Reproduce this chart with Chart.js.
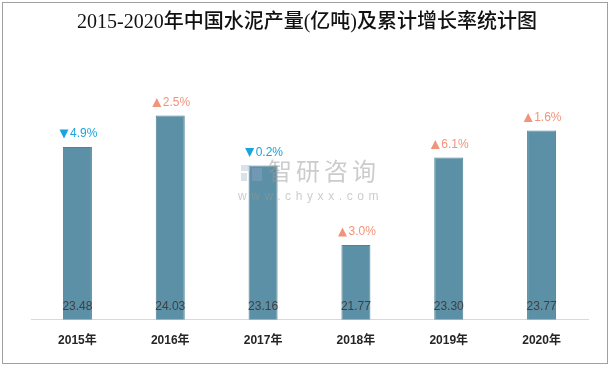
<!DOCTYPE html>
<html><head><meta charset="utf-8">
<script src="https://cdn.jsdelivr.net/npm/chart.js@4/dist/chart.umd.min.js"></script>
<style>html,body{margin:0;padding:0;background:#fff}#wrap{width:613px;height:368px}</style>
</head><body><div id="wrap"><canvas id="c" width="613" height="368"></canvas></div>
<script>
const categories = ['2015年','2016年','2017年','2018年','2019年','2020年'];
const output = [23.48, 24.03, 23.16, 21.77, 23.30, 23.77];
const growth = [-4.9, 2.5, -0.2, 3.0, 6.1, 1.6];
const titleText = '2015-2020年中国水泥产量(亿吨)及累计增长率统计图';
const yMin = 20.47, yMax = 25;

const decor = {
  id: 'decor',
  beforeDraw(chart) {
    const ctx = chart.ctx;
    ctx.save();
    ctx.fillStyle = '#fff';
    ctx.fillRect(0, 0, chart.width, chart.height);
    ctx.strokeStyle = '#a0a0a0';
    ctx.lineWidth = 1;
    ctx.strokeRect(2.5, 2.5, 605, 361);
    ctx.fillStyle = '#111';
    ctx.font = '500 20px "Liberation Serif", "Noto Sans CJK SC"';
    ctx.textAlign = 'center';
    ctx.textBaseline = 'middle';
    ctx.fillText(titleText, 307, 23);
    ctx.restore();
  },
  afterDatasetsDraw(chart) {
    const ctx = chart.ctx;
    const meta = chart.getDatasetMeta(0);
    const base = chart.scales.y.getPixelForValue(yMin);
    ctx.save();
    ctx.textBaseline = 'middle';
    meta.data.forEach((bar, i) => {
      ctx.textAlign = 'center';
      ctx.font = '12px "Liberation Sans", sans-serif';
      ctx.fillStyle = '#404040';
      ctx.fillText(output[i].toFixed(2), bar.x, base - 13);
      const g = growth[i];
      const txt = Math.abs(g).toFixed(1) + '%';
      ctx.font = '12px "Liberation Sans", sans-serif';
      const tw = ctx.measureText(txt).width;
      const triW = 9, gap = 1.5;
      const total = triW + gap + tw;
      const left = bar.x + 1 - total / 2;
      const cy = bar.y - 13;
      ctx.fillStyle = g < 0 ? '#1aa3dc' : '#f2937b';
      ctx.beginPath();
      if (g < 0) {
        ctx.moveTo(left, cy - 4.5); ctx.lineTo(left + triW, cy - 4.5); ctx.lineTo(left + triW / 2, cy + 4.5);
      } else {
        ctx.moveTo(left, cy + 4.5); ctx.lineTo(left + triW, cy + 4.5); ctx.lineTo(left + triW / 2, cy - 4.5);
      }
      ctx.closePath();
      ctx.fill();
      ctx.textAlign = 'left';
      ctx.fillText(txt, left + triW + gap, cy);
    });
    // watermark
    ctx.globalAlpha = 0.5;
    ctx.fillStyle = '#b8c4d8';
    ctx.fillRect(241, 165, 9, 6);
    ctx.fillRect(241, 173, 6, 8);
    ctx.fillStyle = '#8aa0c0';
    ctx.fillRect(252, 168, 10, 13);
    ctx.fillStyle = '#9a9a9a';
    ctx.font = '24px "Noto Sans CJK SC"';
    ctx.textAlign = 'left';
    ctx.letterSpacing = '4px';
    ctx.fillText('智研咨询', 268, 171);
    ctx.font = '12px "Liberation Sans", sans-serif';
    ctx.letterSpacing = '4.6px';
    ctx.fillText('www.chyxx.com', 238, 197);
    ctx.restore();
  }
};

new Chart(document.getElementById('c'), {
  type: 'bar',
  data: {
    labels: categories,
    datasets: [{
      data: output,
      backgroundColor: '#5b90a6',
      borderColor: '#4f8399',
      borderWidth: 1,
      barPercentage: 0.3125,
      categoryPercentage: 1
    }]
  },
  options: {
    responsive: false,
    animation: false,
    devicePixelRatio: 1,
    layout: { padding: { top: 60, left: 31, right: 25, bottom: 6 } },
    plugins: { legend: { display: false }, title: { display: false }, tooltip: { enabled: false } },
    scales: {
      x: {
        grid: { display: false, drawTicks: false },
        border: { display: true, color: '#d9d9d9', width: 1 },
        ticks: { color: '#262626', font: { family: '"Liberation Sans", "Noto Sans CJK SC"', size: 12, weight: 'bold' }, padding: 14 }
      },
      y: { display: false, min: yMin, max: yMax }
    }
  },
  plugins: [decor]
});
</script></body></html>
